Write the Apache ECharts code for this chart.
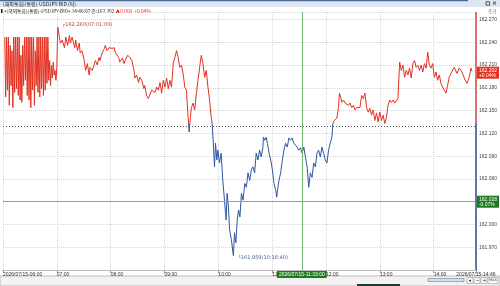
<!DOCTYPE html>
<html>
<head>
<meta charset="utf-8">
<script src="https://cdn.jsdelivr.net/npm/echarts@6/dist/echarts.min.js"></script>
<style>
html, body { margin: 0; padding: 0; background: #fff; }
#chart { width: 500px; height: 286px; }
</style>
</head>
<body>
<div id="chart"></div>
<script>
// tick data: [minutes after 06:00, price]
const ticks = [
  [2,162.247],[3,162.168],[4,162.247],[5,162.177],[6,162.247],[7,162.157],[8,162.236],[9,162.183],
  [10,162.229],[11,162.154],[12,162.247],[13,162.174],[14,162.247],[15,162.179],[16,162.247],[17,162.170],
  [18,162.247],[19,162.164],[20,162.223],[21,162.161],[22,162.236],[23,162.183],[24,162.247],[25,162.190],
  [26,162.247],[27,162.170],[28,162.247],[29,162.164],[30,162.247],[31,162.154],[32,162.247],[33,162.177],
  [34,162.247],[35,162.157],[36,162.229],[37,162.183],[38,162.247],[39,162.174],[40,162.247],[41,162.168],
  [42,162.247],[43,162.179],[44,162.247],[45,162.170],[46,162.247],[47,162.177],[48,162.247],[49,162.186],
  [50,162.247],[51,162.190],[52,162.216],[53,162.183],[54,162.210],[55,162.193],[56,162.214],[57,162.197],
  [58,162.203],[59,162.190],[60,162.207],[61,162.260],
  [64,162.239],[66,162.243],[68.5,162.233],[70,162.247],[72,162.236],[74,162.249],[75,162.239],[77,162.247],
  [80,162.233],[81,162.243],[83,162.229],[85,162.239],[86,162.226],[88,162.229],
  [90.6,162.216],[92,162.203],[94,162.212],[96,162.197],[97,162.207],[99.5,162.203],
  [103,162.216],[105,162.210],[107,162.220],[108,162.216],[110.5,162.226],
  [113,162.232],[114,162.236],[116,162.229],[118,162.233],[119,162.235],[121.5,162.232],[124,162.233],[125,162.227],[127,162.229],
  [129,162.220],[130,162.214],[133,162.219],[135,162.212],[136,162.216],
  [139,162.223],[141.5,162.220],[143.6,162.216],
  [146,162.203],[147,162.193],[149,162.197],[151,162.187],[152.5,162.194],[154.7,162.190],
  [157,162.179],[158,162.183],[160,162.170],[162,162.166],[163.5,162.164],
  [165.7,162.177],[167.6,162.179],[169.4,162.174],[171.3,162.181],[173.1,162.177],[175,162.187],[176.8,162.173],
  [178.6,162.190],[180.5,162.181],[182.3,162.193],[184.2,162.179],[186,162.190],[187.8,162.181],
  [189.7,162.212],[191.5,162.220],[193.4,162.229],[195.2,162.220],[197,162.207],[198.9,162.210],[200.7,162.199],
  [202.6,162.181],[204.4,162.177],[206.3,162.141],[207.4,162.122],[208.8,162.141],[209.9,162.154],
  [211.8,162.160],[213.6,162.151],[215.5,162.173],[217.3,162.190],[219.1,162.207],[221,162.223],
  [222.8,162.212],[224.7,162.194],[226.5,162.203],[228.4,162.181],[230.2,162.164],[232,162.141],
  [233.1,162.133],[234.6,162.102],[235.7,162.076],[236.8,162.107],[238.3,162.085],[239.4,162.098],
  [241.2,162.081],[243.1,162.094],[244.9,162.058],[246.8,162.032],[248.6,162.006],[249.7,162.041],
  [251.2,162.023],[252.5,161.993],[254.5,161.980],[256.7,161.959],[258,161.989],[259.5,161.976],
  [261,162.006],[262.5,162.019],[264,162.010],[265.7,162.041],[267.5,162.032],[269.4,162.054],
  [271.2,162.049],[273,162.068],[274.9,162.058],[276.7,162.072],[278.5,162.076],[280.4,162.068],
  [282.2,162.094],[284.1,162.085],[285.9,162.098],[287.7,162.089],[289.6,162.101],
  [290.2,162.115],[291.7,162.111],[293.2,162.115],[294.7,162.107],[296.5,162.094],[298.3,162.085],
  [300.2,162.072],[302,162.054],[303.9,162.045],[305,162.036],[306.4,162.049],[307.5,162.058],
  [309.4,162.068],[311.3,162.085],[313.1,162.098],[314.9,162.107],[316.8,162.102],[318.6,162.114],
  [320.4,162.111],[322.3,162.114],[324.1,162.107],[326,162.108],[327.8,162.102],[329.6,162.098],
  [331.5,162.101],[333.3,162.094],[335.2,162.102],[337,162.089],[338.9,162.076],[340.7,162.049],
  [342.5,162.068],[344.4,162.062],[346.2,162.081],[348.1,162.076],[349.9,162.094],[351.7,162.098],
  [353.6,162.089],[355.4,162.102],[357.3,162.094],[359.1,162.085],[361,162.081],[362.8,162.098],
  [364.6,162.107],[366.5,162.115],[367.6,162.133],[369.1,162.137],[370.5,162.135],[372,162.140],
  [373.8,162.154],[374.9,162.173],[376.4,162.168],[377.5,162.161],[379.4,162.164],[381.2,162.160],
  [383.1,162.161],[384.9,162.157],[386.7,162.160],[388.6,162.154],[390.4,162.157],[392.3,162.151],
  [394.1,162.154],[396,162.153],[397.8,162.154],
  [399.6,162.170],[401.5,162.166],[403.3,162.173],[405.2,162.154],[407,162.148],[408.8,162.153],
  [410.7,162.144],[412.5,162.151],[414.4,162.137],[416.2,162.147],[418,162.135],[419.9,162.148],
  [421.7,162.137],[423.6,162.144],[425.4,162.133],[427.3,162.141],[429.1,162.157],[430.9,162.164],
  [432.8,162.161],[434.6,162.164],[436.5,162.160],[438.3,162.161],[440.1,162.166],[442,162.214],
  [443.8,162.203],[445.7,162.210],[447.5,162.194],[449.4,162.203],[451.2,162.197],[453,162.206],
  [454.9,162.193],[456.7,162.212],[458.6,162.216],[460.4,162.207],[462.3,162.210],[464.1,162.203],
  [465.9,162.210],[467.8,162.201],[469.6,162.212],[471.5,162.206],[473.3,162.227],[475.1,162.210],
  [477,162.206],[478.8,162.212],[480.7,162.194],[482.5,162.201],[484.3,162.190],[486.2,162.197],
  [488,162.186],[489.9,162.181],[491.7,162.177],[493.6,162.173],[495.4,162.183],[497.2,162.194],
  [499.1,162.199],[500.9,162.201],[502.8,162.207],[506,162.199],[508.3,162.206],[510.5,162.203],
  [512.7,162.197],[515,162.190],[517,162.186],[519.3,162.193],[521.5,162.206],[522.5,162.202]
];

const sessionDate = "2026/07/15";
const hourLabels = ["06:00", "07:00", "08:00", "09:00", "10:00", "11:00", "12:00", "13:00", "14:00"];
const lastTimeLabel = "14:46";
const sessionEnd = 527;

const prevClose = 162.134;
const lastPrice = 162.202;
const lastChange = "+0.04%";
const highPoint = [61, 162.260, "07:01:00"];
const lowPoint = [256.7, 161.959, "10:16:40"];
const crossMinute = 333;
const crossTime = "11:33:00";
const crossPrice = 162.028;
const crossChange = "-0.07%";

const yMin = 161.94;
const yMax = 162.28;

const RED = "#e3301f";
const BLUE = "#2f55a2";
const GREEN_LINE = "#74b874";
const GREEN_BOX = "#1e7a1e";
const FONT = "Liberation Sans";

const chart = echarts.init(document.getElementById("chart"));

const boxLabel = (text, bg, position) => ({
  show: true,
  position,
  formatter: text,
  backgroundColor: bg,
  color: "#fff",
  fontSize: 5,
  fontFamily: FONT,
  lineHeight: 5,
  padding: [1, 2],
  distance: 1,
});

const option = {
  animation: false,
  grid: { left: 0, right: 24, top: 12, bottom: 16 },
  xAxis: {
    type: "value",
    min: 0,
    max: sessionEnd,
    interval: 60,
    axisLine: { lineStyle: { color: "#bdbdbd" } },
    axisTick: { show: true, length: 3, lineStyle: { color: "#999" } },
    axisLabel: {
      fontSize: 5,
      fontFamily: FONT,
      color: "#333",
      margin: 2,
      align: "left",
      alignMaxLabel: "center",
      showMinLabel: true,
      showMaxLabel: true,
      hideOverlap: false,
      formatter: (v) => {
        if (v === 0) return `${sessionDate}-${hourLabels[0]}`;
        if (v === sessionEnd) return `${sessionDate}-${lastTimeLabel}`;
        return hourLabels[v / 60] || "";
      },
    },
    splitLine: { show: true, lineStyle: { type: "dotted", color: "#d6d6d6" } },
  },
  yAxis: {
    type: "value",
    position: "right",
    min: yMin,
    max: yMax,
    interval: 0.03,
    axisLine: { show: false },
    axisTick: { show: false },
    axisLabel: {
      fontSize: 5,
      fontFamily: FONT,
      color: "#444",
      margin: 3,
      showMinLabel: false,
      showMaxLabel: false,
      formatter: (v) => v.toFixed(3),
    },
    splitLine: { lineStyle: { type: "dotted", color: "#d6d6d6" } },
  },
  visualMap: {
    type: "piecewise",
    show: false,
    dimension: 1,
    seriesIndex: 0,
    pieces: [
      { min: yMin, max: prevClose, color: BLUE },
      { min: prevClose, max: yMax, color: RED },
    ],
    outOfRange: { color: RED },
  },
  series: [
    {
      type: "line",
      data: ticks,
      showSymbol: false,
      lineStyle: { width: 1 },
      markPoint: {
        symbol: "circle",
        symbolSize: 1,
        itemStyle: { color: "rgba(0,0,0,0)" },
        data: [
          {
            coord: [highPoint[0], highPoint[1]],
            label: {
              show: true,
              position: "right",
              offset: [-1, -2],
              formatter: `┌${highPoint[1].toFixed(3)}(${highPoint[2]})`,
              color: "#b5493c",
              fontSize: 5,
              fontFamily: "DejaVu Sans",
            },
          },
          {
            coord: [lowPoint[0], lowPoint[1]],
            label: {
              show: true,
              position: "right",
              offset: [-1, 2],
              formatter: `└${lowPoint[1].toFixed(3)}(${lowPoint[2]})`,
              color: "#4a5f8a",
              fontSize: 5,
              fontFamily: "DejaVu Sans",
            },
          },
        ],
      },
    },
    {
      // reference lines, crosshair and price tags
      type: "line",
      data: [],
      markLine: {
        silent: true,
        symbol: ["none", "none"],
        animation: false,
        data: [
          {
            yAxis: prevClose,
            lineStyle: { color: "#555", type: [1, 2], width: 1 },
            label: { show: false },
          },
          {
            yAxis: crossPrice,
            lineStyle: { color: GREEN_LINE, type: "solid", width: 1 },
            label: boxLabel(`${crossPrice.toFixed(3)}\n${crossChange}`, GREEN_BOX, "end"),
          },
          {
            xAxis: crossMinute,
            lineStyle: { color: GREEN_LINE, type: "solid", width: 1 },
            label: boxLabel(`${sessionDate}-${crossTime}`, GREEN_BOX, "start"),
          },
          {
            yAxis: lastPrice,
            lineStyle: { color: "rgba(0,0,0,0)", width: 1 },
            label: boxLabel(`${lastPrice.toFixed(3)}\n${lastChange}`, RED, "end"),
          },
          [
            { coord: [sessionEnd, yMax], lineStyle: { color: "#d9433a", width: 1.5, type: "solid" }, label: { show: false } },
            { coord: [sessionEnd, prevClose] },
          ],
          [
            { coord: [sessionEnd, prevClose], lineStyle: { color: "#2f4f8f", width: 1.5, type: "solid" }, label: { show: false } },
            { coord: [sessionEnd, yMin] },
          ],
        ],
      },
    },
  ],
  graphic: [
    // title bar
    { type: "rect", shape: { x: 0, y: 0, width: 500, height: 7 }, style: { fill: "#dde6f1" } },
    { type: "rect", shape: { x: 0, y: 0, width: 468, height: 1.2 }, style: { fill: "#4d6a96" } },
    {
      type: "text",
      x: 3,
      y: 4,
      style: { text: "(해외통화)(통합)-USDJPY-BID (틱)", font: '5px "Noto Sans CJK KR"', fill: "#222", verticalAlign: "middle" },
    },
    { type: "rect", shape: { x: 486, y: 1.8, width: 3.6, height: 3.4 }, style: { fill: "none", stroke: "#333", lineWidth: 0.8 } },
    { type: "text", x: 492, y: 3.8, style: { text: "×", font: 'bold 6px "DejaVu Sans"', fill: "#333", verticalAlign: "middle" } },
    // info line
    { type: "rect", shape: { x: 1, y: 9, width: 1.5, height: 4 }, style: { fill: "#222" } },
    {
      type: "text",
      x: 4,
      y: 11.2,
      style: {
        text: "{d|<(해외통화)(통합)-USDJPY-BID> 14:46:07 종:162.202 }{r|▲0.060  +0.04%}",
        verticalAlign: "middle",
        rich: {
          d: { font: '4.8px "Noto Sans CJK KR"', fill: "#222" },
          r: { font: '4.8px "Noto Sans CJK KR"', fill: RED },
        },
      },
    },
    { type: "text", x: 488, y: 11, style: { text: "종가", font: '4.6px "Noto Sans CJK KR"', fill: "#666", verticalAlign: "middle" } },
    // scroll bar
    { type: "rect", shape: { x: 0, y: 276, width: 500, height: 10 }, style: { fill: "#f3f3f3", stroke: "#bdbdbd", lineWidth: 1 } },
    { type: "rect", shape: { x: 428, y: 278.5, width: 36, height: 3 }, style: { fill: "#d7dfeb", stroke: "#7f95b8", lineWidth: 0.8 } },
    { type: "rect", shape: { x: 467, y: 277.5, width: 6, height: 6 }, style: { fill: "#fafafa", stroke: "#999", lineWidth: 0.6 } },
    { type: "rect", shape: { x: 474, y: 277.5, width: 6, height: 6 }, style: { fill: "#fafafa", stroke: "#999", lineWidth: 0.6 } },
    { type: "rect", shape: { x: 481, y: 277.5, width: 6, height: 6 }, style: { fill: "#fafafa", stroke: "#999", lineWidth: 0.6 } },
    { type: "rect", shape: { x: 488, y: 277.5, width: 10, height: 6 }, style: { fill: "#fafafa", stroke: "#999", lineWidth: 0.6 } },
    { type: "text", x: 468.5, y: 280.5, style: { text: "◂", font: '5px "DejaVu Sans"', fill: "#333", verticalAlign: "middle" } },
    { type: "text", x: 475.5, y: 280.5, style: { text: "−", font: '5px "DejaVu Sans"', fill: "#333", verticalAlign: "middle" } },
    { type: "text", x: 482.5, y: 280.5, style: { text: "+", font: '5px "DejaVu Sans"', fill: "#333", verticalAlign: "middle" } },
    { type: "text", x: 489, y: 280.5, style: { text: "MAX", font: '3.5px "DejaVu Sans"', fill: "#333", verticalAlign: "middle" } },
    { type: "rect", shape: { x: 357, y: 284, width: 43, height: 2 }, style: { fill: "#1f3a2a" } },
  ],
};

chart.setOption(option);
</script>
</body>
</html>
